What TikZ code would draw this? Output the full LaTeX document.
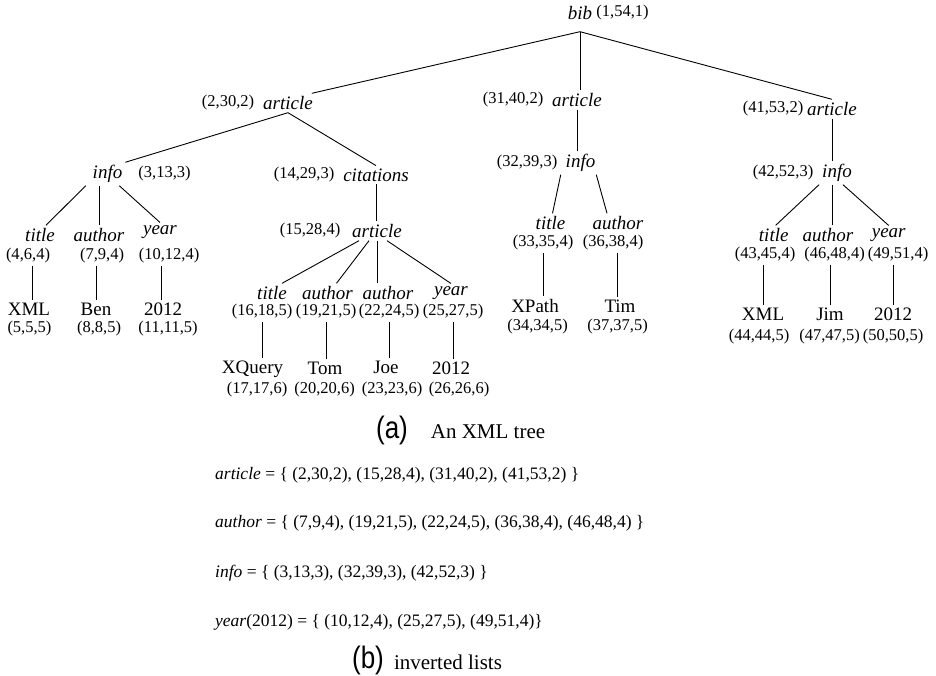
\documentclass[tikz,border=0pt]{standalone}
\usepackage{fontspec}
\usepackage{graphicx}
\setmainfont{Liberation Serif}
\newfontfamily\capsans{Liberation Sans}

\begin{document}
\begin{tikzpicture}[
  x=1pt, y=-1pt,
  tag/.style={font=\fontsize{19}{19}\selectfont\itshape, inner sep=0pt, outer sep=3pt},
  tup/.style={font=\fontsize{16.5}{16.5}\selectfont, inner sep=0pt, outer sep=3pt},
  leaf/.style={font=\fontsize{19}{19}\selectfont, inner sep=0pt, outer sep=3pt},
  edge/.style={line width=0.9pt},
  capl/.style={font=\capsans\fontsize{31}{31}\selectfont, inner sep=0pt},
  capt/.style={font=\fontsize{21}{21}\selectfont, inner sep=0pt},
  lst/.style={font=\fontsize{17.5}{17.5}\selectfont, anchor=west, inner sep=0pt}
]
  \useasboundingbox (0,0) rectangle (936,675);

  % raiz
  \node[tag] (bib)    at (580,13)    {bib};
  \node[tup] (t-bib)  at (622.5,13)  {(1,54,1)};
  \coordinate (apex) at ([yshift=-9pt]bib.south);

  % nivel 1: os tres article
  \node[tag] (art1)   at (288,103)   {article};
  \node[tup] (t-art1) at (228,103)   {(2,30,2)};
  \node[tag] (art2)   at (577,100)   {article};
  \node[tup] (t-art2) at (513,100)   {(31,40,2)};
  \node[tag] (art3)   at (832,109)   {article};
  \node[tup] (t-art3) at (773,109)   {(41,53,2)};

  \draw[edge] (apex) -- ([xshift=-4pt]art1.north east);
  \draw[edge] (apex) -- (apex |- art2.north);
  \draw[edge] (apex) -- (art3.north);

  % nivel 2
  \node[tag] (info1)   at (107.5,174) {info};
  \node[tup] (t-info1) at (164.5,174) {(3,13,3)};
  \node[tag] (cit)     at (376,175)   {citations};
  \node[tup] (t-cit)   at (304,175)   {(14,29,3)};
  \node[tag] (info2)   at (580.5,163) {info};
  \node[tup] (t-info2) at (527,163)   {(32,39,3)};
  \node[tag] (info3)   at (837,173)   {info};
  \node[tup] (t-info3) at (783,173)   {(42,52,3)};

  \draw[edge] (art1.south) -- (info1.north east);
  \draw[edge] (art1.south) -- (cit.north);
  \draw[edge] (art2.south) -- (art2.south |- info2.north);
  \draw[edge] (art3.south) -- (art3.south |- info3.north);

  % article de citations
  \node[tag] (art1b)   at (377,231)   {article};
  \node[tup] (t-art1b) at (310,231)   {(15,28,4)};
  \draw[edge] (cit.south) -- (cit.south |- art1b.north);

  % filhos de info (3,13,3)
  \node[tag] (ti1)   at (40,235)    {title};
  \node[tup] (t-ti1) at (28,256)    {(4,6,4)};
  \node[tag] (au1)   at (99,235)    {author};
  \node[tup] (t-au1) at (102,256)   {(7,9,4)};
  \node[tag] (ye1)   at (160,232)   {year};
  \node[tup] (t-ye1) at (169,256)   {(10,12,4)};

  \draw[edge] ([xshift=-4pt]info1.south west) -- ([xshift=6pt]ti1.north);
  \draw[edge] (au1.north |- info1.south) -- (au1.north);
  \draw[edge] ([xshift=-6pt]info1.south east) -- (ye1.north);

  \node[leaf] (xml1)   at (29,309)   {XML};
  \node[tup]  (t-xml1) at (29.5,329) {(5,5,5)};
  \node[leaf] (ben)    at (96,309)   {Ben};
  \node[tup]  (t-ben)  at (99,329)   {(8,8,5)};
  \node[leaf] (yr1)    at (163,309)  {2012};
  \node[tup]  (t-yr1)  at (168,329)  {(11,11,5)};

  \draw[edge] ([xshift=3pt]xml1.north |- t-ti1.south) -- ([xshift=3pt]xml1.north);
  \draw[edge] (ben.north |- t-au1.south) -- (ben.north);
  \draw[edge] ([xshift=-2pt]yr1.north |- t-ye1.south) -- ([xshift=-2pt]yr1.north);

  % filhos do article (15,28,4)
  \node[tag] (ti2)   at (272,293)   {title};
  \node[tup] (t-ti2) at (262,312)   {(16,18,5)};
  \node[tag] (au2)   at (327.5,293) {author};
  \node[tup] (t-au2) at (326,312)   {(19,21,5)};
  \node[tag] (au3)   at (388,293)   {author};
  \node[tup] (t-au3) at (389,312)   {(22,24,5)};
  \node[tag] (ye2)   at (451,293)   {year};
  \node[tup] (t-ye2) at (453,312)   {(25,27,5)};

  \draw[edge] ([xshift=-18pt]art1b.south) -- ([xshift=10pt]ti2.north);
  \draw[edge] ([xshift=-8pt]art1b.south) -- ([xshift=9pt]au2.north);
  \draw[edge] (art1b.south) -- (art1b.south |- au3.north);
  \draw[edge] ([xshift=10pt]art1b.south) -- (ye2.north);

  \node[leaf] (xq)    at (252.5,369) {XQuery};
  \node[tup]  (t-xq)  at (257,390)   {(17,17,6)};
  \node[leaf] (tom)   at (325,368)   {Tom};
  \node[tup]  (t-tom) at (324.5,390) {(20,20,6)};
  \node[leaf] (joe)   at (386,367)   {Joe};
  \node[tup]  (t-joe) at (392,390)   {(23,23,6)};
  \node[leaf] (yr2)   at (451,368)   {2012};
  \node[tup]  (t-yr2) at (459,390)   {(26,26,6)};

  \draw[edge] (t-ti2.south) -- (t-ti2.south |- xq.north);
  \draw[edge] (t-au2.south) -- (t-au2.south |- tom.north);
  \draw[edge] (t-au3.south) -- (t-au3.south |- joe.north);
  \draw[edge] (t-ye2.south) -- (t-ye2.south |- yr2.north);

  % filhos de info (32,39,3)
  \node[tag] (ti3)   at (550.5,223) {title};
  \node[tup] (t-ti3) at (543,243)   {(33,35,4)};
  \node[tag] (au4)   at (618,223)   {author};
  \node[tup] (t-au4) at (613,243)   {(36,38,4)};

  \draw[edge] ([xshift=-2pt]info2.south west) -- ([xshift=2pt]ti3.north);
  \draw[edge] ([xshift=-2pt]info2.south east) -- ([xshift=-11pt]au4.north);

  \node[leaf] (xpath)   at (535,306)   {XPath};
  \node[tup]  (t-xpath) at (537.5,327) {(34,34,5)};
  \node[leaf] (tim)     at (620,306)   {Tim};
  \node[tup]  (t-tim)   at (617.5,327) {(37,37,5)};

  \draw[edge] (t-ti3.south) -- (t-ti3.south |- xpath.north);
  \draw[edge] ([xshift=-3pt]tim.north |- t-au4.south) -- ([xshift=-3pt]tim.north);

  % filhos de info (42,52,3)
  \node[tag] (ti4)   at (773.7,235) {title};
  \node[tup] (t-ti4) at (765,255)   {(43,45,4)};
  \node[tag] (au5)   at (828,235)   {author};
  \node[tup] (t-au5) at (834.5,255) {(46,48,4)};
  \node[tag] (ye3)   at (888.7,235) {year};
  \node[tup] (t-ye3) at (898,255)   {(49,51,4)};

  \draw[edge] ([xshift=-18pt]info3.south) -- ([xshift=2pt]ti4.north);
  \draw[edge] (art3.south |- info3.south) -- (art3.south |- au5.north);
  \draw[edge] ([xshift=6pt]info3.south) -- (ye3.north);

  \node[leaf] (xml2)   at (763,314)   {XML};
  \node[tup]  (t-xml2) at (759,337)   {(44,44,5)};
  \node[leaf] (jim)    at (830,314)   {Jim};
  \node[tup]  (t-jim)  at (829.5,337) {(47,47,5)};
  \node[leaf] (yr3)    at (893,314)   {2012};
  \node[tup]  (t-yr3)  at (893,337)   {(50,50,5)};

  \draw[edge] (xml2.north |- t-ti4.south) -- (xml2.north);
  \draw[edge] (jim.north |- t-au5.south) -- (jim.north);
  \draw[edge] (yr3.north |- t-ye3.south) -- (yr3.north);

  % legenda (a)
  \node[capl] (cap-a)  at (392,430) {\scalebox{0.84}[1]{(a)}};
  \node[capt] (cap-at) at (488,432) {An\ XML\ tree};

  % listas invertidas
  \node[lst] (l-art)  at (215,475) {\textit{article} = \{ (2,30,2), (15,28,4), (31,40,2), (41,53,2) \}};
  \node[lst] (l-au)   at (215,523) {\textit{author} = \{ (7,9,4), (19,21,5), (22,24,5), (36,38,4), (46,48,4) \}};
  \node[lst] (l-info) at (215,573) {\textit{info} = \{ (3,13,3), (32,39,3), (42,52,3) \}};
  \node[lst] (l-year) at (215,622) {\textit{year}(2012) = \{ (10,12,4), (25,27,5), (49,51,4)\}};

  % legenda (b)
  \node[capl] (cap-b)  at (368,660) {\scalebox{0.84}[1]{(b)}};
  \node[capt] (cap-bt) at (448,662) {inverted lists};
\end{tikzpicture}
\end{document}
